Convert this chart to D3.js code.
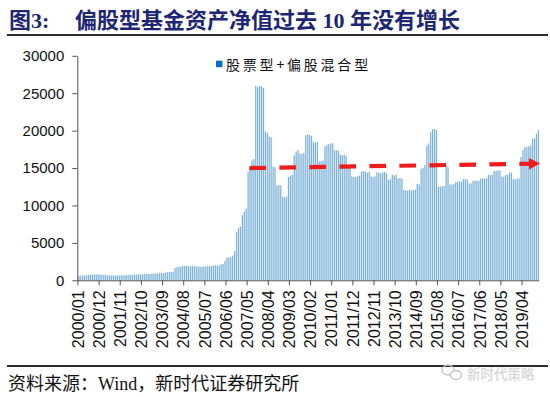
<!DOCTYPE html>
<html>
<head>
<meta charset="utf-8">
<script src="https://cdn.jsdelivr.net/npm/d3@7"></script>
<style>
  html, body { margin: 0; padding: 0; background: #fff; }
  svg { display: block; }
</style>
</head>
<body>
<svg id="chart" width="550" height="397"></svg>
<script>
// ---------- data ----------
const years = d3.range(2000, 2020);
const months = ["01","02","03","04","05","06","07","08","09","10","11","12"];
const categories = [];
years.forEach(y => months.forEach(m => categories.push(y + "/" + m)));

const values2000 = [600, 620, 640, 650, 680, 700, 730, 750, 770, 780, 790, 770];
const values2001 = [740, 720, 680, 660, 650, 640, 640, 640, 650, 650, 660, 670];
const values2002 = [690, 700, 720, 730, 740, 760, 770, 780, 790, 800, 820, 830];
const values2003 = [850, 870, 880, 900, 920, 940, 960, 980, 1000, 1030, 1060, 1100];
const values2004 = [1120, 1150, 1650, 1750, 1800, 1850, 1900, 1900, 1950, 1900, 1850, 1900];
const values2005 = [1900, 1850, 1850, 1800, 1800, 1850, 1850, 1900, 1900, 1900, 1950, 2000];
const values2006 = [1950, 2000, 2150, 2200, 2600, 3000, 3050, 3100, 3300, 3900, 6500, 6950];
const values2007 = [7200, 8700, 9200, 9600, 14500, 15000, 16000, 16200, 26000, 25800, 26000, 25900];
const values2008 = [25700, 19900, 19700, 19200, 19100, 15200, 15100, 12700, 12700, 12700, 11200, 11100];
const values2009 = [11200, 13800, 14000, 14100, 16700, 17200, 17400, 16900, 16900, 17000, 19400, 19500];
const values2010 = [19400, 19300, 18500, 18400, 18500, 15900, 15900, 16000, 17900, 18100, 18200, 18300];
const values2011 = [18300, 17400, 17400, 17300, 16800, 16700, 16800, 16600, 15400, 15300, 13900, 13800];
const values2012 = [13800, 13900, 14000, 14500, 14600, 14500, 14400, 14500, 13900, 13800, 13900, 14400];
const values2013 = [14400, 14300, 14400, 14500, 14300, 13400, 13500, 14100, 14000, 14100, 13600, 13700];
const values2014 = [13600, 12100, 12000, 12000, 12100, 12000, 12100, 12100, 12900, 12800, 14900, 15000];
const values2015 = [15400, 18000, 18300, 19800, 20200, 20200, 20100, 12500, 12500, 12600, 12600, 15200];
const values2016 = [15100, 12800, 12800, 12900, 13100, 13200, 13200, 13200, 13500, 13500, 13500, 12950];
const values2017 = [12950, 13300, 13300, 13300, 13300, 13600, 13600, 13600, 13650, 14100, 14100, 14100];
const values2018 = [14600, 14650, 14700, 14700, 13850, 13850, 14100, 14100, 14400, 14400, 13500, 13500];
const values2019 = [13600, 13600, 16500, 17400, 17800, 17800, 17900, 18000, 18900, 19000, 19600, 20100];

const seriesValues = [].concat(values2000, values2001, values2002, values2003, values2004,
  values2005, values2006, values2007, values2008, values2009, values2010, values2011,
  values2012, values2013, values2014, values2015, values2016, values2017, values2018, values2019);

const yTicks = [0, 5000, 10000, 15000, 20000, 25000, 30000];
const xTickLabels = ["2000/01","2000/12","2001/11","2002/10","2003/09","2004/08","2005/07",
  "2006/06","2007/05","2008/04","2009/03","2010/02","2011/01","2011/12","2012/11","2013/10",
  "2014/09","2015/08","2016/07","2017/06","2018/05","2019/04"];

const trendDates = ["2007/06", "2019/12"];
const trendValues = [15000, 15600];

const seriesName = "股票型+偏股混合型";
const titleLead = "图3:";
const titleText = ["偏股型基金资产净值过去", " 10 ", "年没有增长"];
const sourceText = ["资料来源：", "Wind", "，新时代证券研究所"];
const watermarkText = "新时代策略";

// ---------- layout ----------
const svg = d3.select("#chart");
const plotLeft = 78, plotRight = 539.3, plotTop = 55.8, plotBottom = 280.3;

const x = d3.scaleBand().domain(categories).range([plotLeft, plotRight]).paddingInner(0.35).paddingOuter(0.15);
const y = d3.scaleLinear().domain([0, 30000]).range([plotBottom, plotTop]);

const data = categories.map((c, i) => ({ c, v: seriesValues[i] }));

// title
const title = svg.append("text").attr("x", 9).attr("y", 28)
  .attr("fill", "#1d2674").attr("font-weight", "bold").attr("font-size", 22);
title.append("tspan").attr("font-family", "Noto Sans CJK SC").text(titleLead.slice(0, 1));
title.append("tspan").attr("font-family", "Liberation Serif").text(titleLead.slice(1));
const title2 = svg.append("text").attr("x", 75).attr("y", 28)
  .attr("fill", "#1d2674").attr("font-weight", "bold").attr("font-size", 22);
title2.append("tspan").attr("font-family", "Noto Sans CJK SC").text(titleText[0]);
title2.append("tspan").attr("font-family", "Liberation Serif").style("white-space", "pre").text(titleText[1]);
title2.append("tspan").attr("font-family", "Noto Sans CJK SC").text(titleText[2]);

svg.append("line").attr("x1", 7).attr("x2", 548).attr("y1", 35).attr("y2", 35)
  .attr("stroke", "#2b2b2b").attr("stroke-width", 2);

// bars
svg.append("g").selectAll("rect").data(data).join("rect")
  .attr("x", d => x(d.c))
  .attr("width", x.bandwidth())
  .attr("y", d => y(d.v))
  .attr("height", d => y(0) - y(d.v))
  .attr("fill", "#7cb2d8");

// y axis
const yAxis = svg.append("g").attr("transform", `translate(${plotLeft - 0.7},0)`)
  .call(d3.axisLeft(y).tickValues(yTicks).tickSize(5).tickSizeOuter(0).tickPadding(8).tickFormat(d3.format("d")));
yAxis.select(".domain").attr("stroke", "#555");
yAxis.selectAll(".tick line").attr("stroke", "#555");
yAxis.selectAll("text").attr("font-family", "Liberation Sans").attr("font-size", 15).attr("fill", "#111");

// x axis
const xAxis = svg.append("g").attr("transform", `translate(0,${plotBottom})`)
  .call(d3.axisBottom(x).tickValues(xTickLabels).tickSize(5).tickSizeOuter(0));
xAxis.select(".domain").attr("stroke", "#555").attr("d", `M${plotLeft - 0.7},0.5H${plotRight}`);
xAxis.selectAll(".tick").attr("transform", d => `translate(${x(d) - x.step() * x.paddingInner() / 2},0)`);
xAxis.selectAll(".tick line").attr("stroke", "#555");
xAxis.selectAll("text")
  .attr("font-family", "Liberation Sans").attr("font-size", 16).attr("fill", "#111")
  .attr("transform", "rotate(-90)")
  .attr("text-anchor", "end")
  .attr("x", -10).attr("y", 0).attr("dy", "0.36em");

// legend
svg.append("rect").attr("x", 216).attr("y", 60.7).attr("width", 6.5).attr("height", 6.5).attr("fill", "#0a6fc2");
svg.append("text").attr("x", 226).attr("y", 69.5)
  .attr("font-family", "Noto Sans CJK SC").attr("font-size", 14).attr("letter-spacing", 2.8)
  .attr("fill", "#111").text(seriesName);

// red dashed trend arrow
const tx0 = x(trendDates[0]);
const tx1 = x(trendDates[1]) + x.bandwidth() + 1;
const ty0 = y(trendValues[0]);
const ty1 = y(trendValues[1]);
const headLen = 11, headHalf = 5.8;
const ang = Math.atan2(ty1 - ty0, tx1 - tx0);
const bx = tx1 - headLen * Math.cos(ang), by = ty1 - headLen * Math.sin(ang);
svg.append("line").attr("x1", tx0).attr("y1", ty0).attr("x2", bx + 1).attr("y2", by)
  .attr("stroke", "#ee1c1c").attr("stroke-width", 4.2).attr("stroke-dasharray", "16.7,13.3");
svg.append("path")
  .attr("d", `M${tx1},${ty1}L${bx - headHalf * Math.sin(ang)},${by + headHalf * Math.cos(ang)}L${bx + headHalf * Math.sin(ang)},${by - headHalf * Math.cos(ang)}Z`)
  .attr("fill", "#ee1c1c");

// footer
svg.append("line").attr("x1", 7).attr("x2", 548).attr("y1", 366).attr("y2", 366)
  .attr("stroke", "#2b2b2b").attr("stroke-width", 2);
const src = svg.append("text").attr("x", 8).attr("y", 390).attr("font-size", 18).attr("fill", "#111");
src.append("tspan").attr("font-family", "Noto Sans CJK SC").text(sourceText[0]);
src.append("tspan").attr("font-family", "Liberation Serif").text(sourceText[1]);
src.append("tspan").attr("font-family", "Noto Sans CJK SC").text(sourceText[2]);

// watermark
const wm = svg.append("g").attr("fill", "none").attr("stroke", "#c4c4c4").attr("stroke-width", 1.3);
wm.append("ellipse").attr("cx", 448).attr("cy", 370).attr("rx", 6).attr("ry", 5);
wm.append("ellipse").attr("cx", 456).attr("cy", 375).attr("rx", 5.5).attr("ry", 4.5).attr("fill", "#fff");
svg.append("text").attr("x", 467).attr("y", 379).attr("font-family", "Noto Sans CJK SC")
  .attr("font-size", 13.5).attr("fill", "#c8c8c8").attr("stroke", "#e6e6e6").attr("stroke-width", 0.4)
  .text(watermarkText);
</script>
</body>
</html>
